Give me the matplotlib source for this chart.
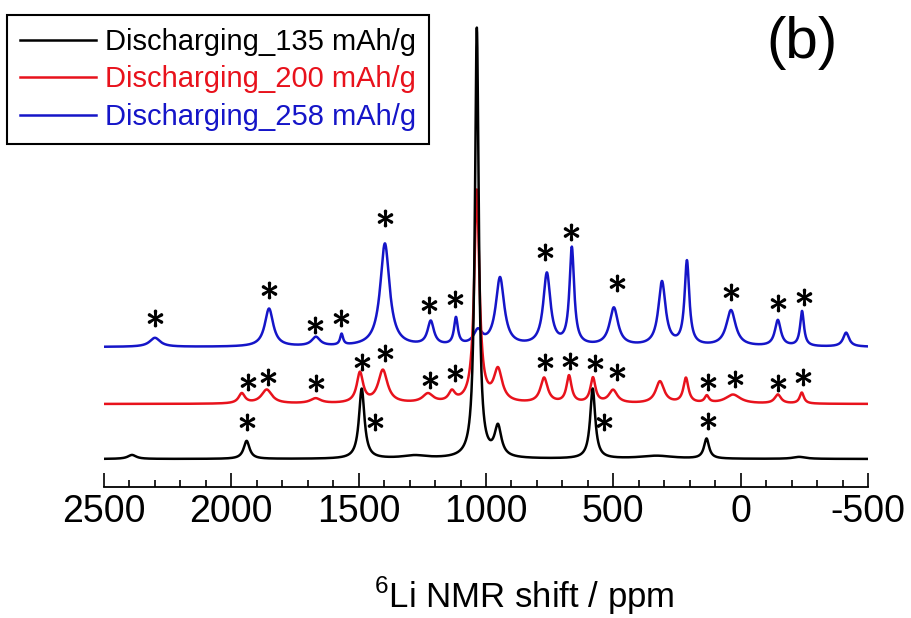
import numpy as np
import matplotlib
matplotlib.use('Agg')
import matplotlib.pyplot as plt
from matplotlib.ticker import MultipleLocator

plt.rcParams['font.family'] = ['Liberation Sans', 'DejaVu Sans']
plt.rcParams['mathtext.fontset'] = 'custom'
plt.rcParams['mathtext.rm'] = 'Liberation Sans'
plt.rcParams['axes.unicode_minus'] = False

# peak lists: (shift ppm, height, half width ppm)
black_peaks = [(2390, 4, 20), (1940, 18, 14), (1488, 70, 13), (1280, 3, 60),
               (1036, 430, 9), (953, 30, 16), (581, 70, 12), (330, 3, 80),
               (134, 20, 12), (-230, 2, 30)]
red_peaks = [(1959, 10, 15), (1861, 14, 25), (1669, 5, 25), (1495, 30, 15),
             (1405, 33, 22), (1228, 9, 25), (1134, 10, 15), (1036, 212, 12),
             (953, 32, 20), (772, 25, 17), (674, 27, 12), (580, 25, 12),
             (501, 13, 20), (317, 22, 20), (215, 25, 12), (133, 7, 10),
             (30, 9, 35), (-146, 9, 15), (-240, 11, 10)]
blue_peaks = [(2300, 9, 25), (1852, 38, 20), (1668, 9, 20), (1567, 11, 7),
              (1397, 103, 22), (1217, 24, 15), (1118, 27, 9), (1032, 14, 20),
              (945, 68, 20), (761, 72, 17), (663, 97, 11), (498, 38, 20),
              (309, 64, 17), (211, 84, 11), (38, 36, 22), (-146, 26, 14),
              (-241, 35, 9), (-414, 14, 14)]

offsets = [0, 55, 112]   # black, red, blue baselines

# spinning sideband markers (ppm, height)
black_stars = [(1939, 37), (1436, 37), (537, 37), (129, 38)]
red_stars = [(1935, 77), (1856, 82), (1668, 76), (1487, 97), (1397, 106),
             (1220, 79), (1122, 86), (769, 97), (671, 98), (572, 96),
             (486, 87), (130, 77), (24, 80), (-146, 76), (-244, 82)]
blue_stars = [(2300, 141), (1852, 169), (1672, 134), (1570, 141), (1397, 241),
              (1224, 154), (1122, 160), (769, 207), (667, 227), (486, 176),
              (38, 167), (-146, 156), (-248, 162)]

labels = ['Discharging_135 mAh/g', 'Discharging_200 mAh/g', 'Discharging_258 mAh/g']
colors = ['#000000', '#e8121c', '#1515c8']


def spectrum(ppm, peaks, base):
    y = np.full_like(ppm, base, dtype=float)
    for c, h, w in peaks:
        y += h / (1 + ((ppm - c) / w) ** 2)
    return y


ppm = np.linspace(2500, -500, 3001)

fig = plt.figure(figsize=(9.12, 6.18), dpi=100)
ax = fig.add_axes([104 / 912, 131 / 618, 764 / 912, 477 / 618])

lines = []
for peaks, off, col, lab in reversed(list(zip([black_peaks, red_peaks, blue_peaks],
                                                offsets, colors, labels))):
    ln, = ax.plot(ppm, spectrum(ppm, peaks, off), color=col, lw=1.8, label=lab)
    lines.append(ln)
lines = lines[::-1]

for stars in [black_stars, red_stars, blue_stars]:
    sx, sy = zip(*stars)
    ax.plot(sx, sy, ls='none', marker=r'$\ast$', ms=12, mew=0.9, color='k')

ax.set_xlim(2500, -500)
ax.set_ylim(-28, 449)
for s in ['left', 'right', 'top']:
    ax.spines[s].set_visible(False)
ax.spines['bottom'].set_linewidth(1.3)
ax.set_yticks([])
ax.xaxis.set_major_locator(MultipleLocator(500))
ax.xaxis.set_minor_locator(MultipleLocator(100))
ax.tick_params(axis='x', which='major', direction='in', length=10, width=1.2,
               labelsize=27, pad=5)
ax.tick_params(axis='x', which='minor', direction='in', length=5, width=1.2)

fig.text(524 / 912, 10 / 618, r'$^{6}$Li NMR shift / ppm', ha='center',
         va='baseline', fontsize=25)
fig.text(802 / 912, 1 - 58 / 618, '(b)', ha='center', va='baseline', fontsize=42)

leg = fig.legend(lines, labels, loc='upper left', bbox_to_anchor=(7 / 912, 1 - 15 / 618),
                 borderaxespad=0, fontsize=21, handlelength=2.6, handletextpad=0.3,
                 labelspacing=0.32, borderpad=0.45, fancybox=False, framealpha=1,
                 edgecolor='k')
leg.get_frame().set_linewidth(1.5)
for t, c in zip(leg.get_texts(), colors):
    t.set_color(c)

fig.savefig('out.png', dpi=100)
